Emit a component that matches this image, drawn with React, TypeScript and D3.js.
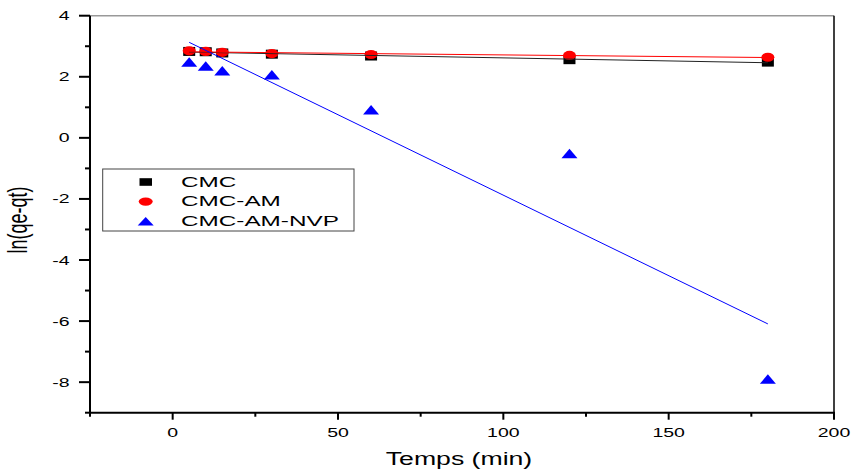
import React from "react";
import * as d3 from "d3";

const times = [5, 10, 15, 30, 60, 120, 180];
const cmc = [2.83, 2.82, 2.78, 2.74, 2.68, 2.56, 2.48];
const cmcAm = [2.85, 2.83, 2.8, 2.76, 2.73, 2.7, 2.64];
const cmcAmNvp = [2.48, 2.35, 2.2, 2.07, 0.92, -0.51, -7.9];
const xMajor = [0, 50, 100, 150, 200];
const xMinor = [-25, 25, 75, 125, 175];
const yMajor = [-8, -6, -4, -2, 0, 2, 4];
const yMinor = [-9, -7, -5, -3, -1, 1, 3];
const legendLabels = ["CMC", "CMC-AM", "CMC-AM-NVP"];

const W = 854;
const H = 473;
const L = 90, R = 834, T = 15.7, B = 412.7;
const SX = 1.5; // horizontal stretch of the reference's text

function fit(xs: number[], ys: number[]) {
  const mx = d3.mean(xs)!;
  const my = d3.mean(ys)!;
  let sxy = 0, sxx = 0;
  xs.forEach((x, i) => {
    sxy += (x - mx) * (ys[i] - my);
    sxx += (x - mx) * (x - mx);
  });
  const b = sxy / sxx;
  const a = my - b * mx;
  return (x: number) => a + b * x;
}

export default function App() {
  const x = d3.scaleLinear().domain([-25, 200]).range([L, R]);
  const y = d3.scaleLinear().domain([-9, 4]).range([B, T]);
  const font = "'Liberation Sans', Arial, sans-serif";
  const x0 = times[0], x1 = times[times.length - 1];

  const fitLine = (ys: number[]) => {
    const f = fit(times, ys);
    return `M${x(x0)},${y(f(x0))}L${x(x1)},${y(f(x1))}`;
  };

  const tri = (cx: number, cy: number, w: number, h: number) =>
    `M${cx - w / 2},${cy + h / 2}L${cx + w / 2},${cy + h / 2}L${cx},${cy - h / 2}Z`;

  return (
    <svg
      width={W}
      height={H}
      style={{ position: "absolute", left: 0, top: 0, background: "#fff" }}
      fontFamily={font}
    >
      {/* frame */}
      <line x1={L} x2={R} y1={T} y2={T} stroke="#999" strokeWidth={1.5} />
      <line x1={R} x2={R} y1={T} y2={B} stroke="#000" strokeWidth={1.5} />
      <line x1={L} x2={L} y1={T} y2={B + 1} stroke="#000" strokeWidth={2} />
      <line x1={L - 1} x2={R + 1} y1={B} y2={B} stroke="#000" strokeWidth={2} />

      {/* y ticks */}
      {yMajor.map((v) => (
        <g key={"ym" + v}>
          <line x1={L - 11} x2={L} y1={y(v)} y2={y(v)} stroke="#000" strokeWidth={2} />
          <text
            transform={`translate(${L - 20.5},${y(v) + 4.5}) scale(${SX},1)`}
            textAnchor="end"
            fontSize={13}
          >
            {v}
          </text>
        </g>
      ))}
      {yMinor.map((v) => (
        <line key={"yn" + v} x1={L - 5} x2={L} y1={y(v)} y2={y(v)} stroke="#000" strokeWidth={2} />
      ))}

      {/* x ticks */}
      {xMajor.map((v) => (
        <g key={"xm" + v}>
          <line x1={x(v)} x2={x(v)} y1={B} y2={B + 7} stroke="#000" strokeWidth={2} />
          <text
            transform={`translate(${x(v)},${436.7}) scale(${SX},1)`}
            textAnchor="middle"
            fontSize={13}
          >
            {v}
          </text>
        </g>
      ))}
      {xMinor.map((v) => (
        <line key={"xn" + v} x1={x(v)} x2={x(v)} y1={B} y2={B + 4} stroke="#000" strokeWidth={2} />
      ))}

      {/* axis titles */}
      <text
        transform={`translate(${459},${465}) scale(1.48,1)`}
        textAnchor="middle"
        fontSize={18}
      >
        Temps (min)
      </text>
      <text
        transform={`translate(27,220) scale(${SX},1) rotate(-90)`}
        textAnchor="middle"
        fontSize={18}
      >
        ln(qe-qt)
      </text>

      {/* markers */}
      {times.map((t, i) => (
        <rect key={"s" + i} x={x(t) - 6} y={y(cmc[i]) - 4.5} width={12} height={9} fill="#000" />
      ))}
      {times.map((t, i) => (
        <ellipse key={"c" + i} cx={x(t)} cy={y(cmcAm[i])} rx={6.5} ry={4.6} fill="#ff0000" />
      ))}
      {times.map((t, i) => (
        <path key={"t" + i} d={tri(x(t), y(cmcAmNvp[i]), 16, 9.5)} fill="#0000ff" />
      ))}

      {/* fit lines */}
      <path d={fitLine(cmc)} stroke="#222" strokeWidth={1} fill="none" />
      <path d={fitLine(cmcAm)} stroke="#ff0000" strokeWidth={1} fill="none" />
      <path d={fitLine(cmcAmNvp)} stroke="#0000ff" strokeWidth={1} fill="none" />

      {/* legend */}
      <rect x={102.7} y={169} width={251.3} height={62} fill="#fff" stroke="#444" strokeWidth={1} />
      {legendLabels.map((lab, i) => {
        const cy = 182 + i * 19.6;
        return (
          <g key={lab}>
            {i === 0 && <rect x={139.5} y={cy - 3.8} width={12.5} height={7.6} fill="#000" />}
            {i === 1 && <ellipse cx={145.7} cy={cy} rx={7} ry={4.2} fill="#ff0000" />}
            {i === 2 && <path d={tri(145.7, cy, 16, 8.5)} fill="#0000ff" />}
            <text
              transform={`translate(181,${cy + 4.8}) scale(1.62,1)`}
              fontSize={15}
            >
              {lab}
            </text>
          </g>
        );
      })}
    </svg>
  );
}
